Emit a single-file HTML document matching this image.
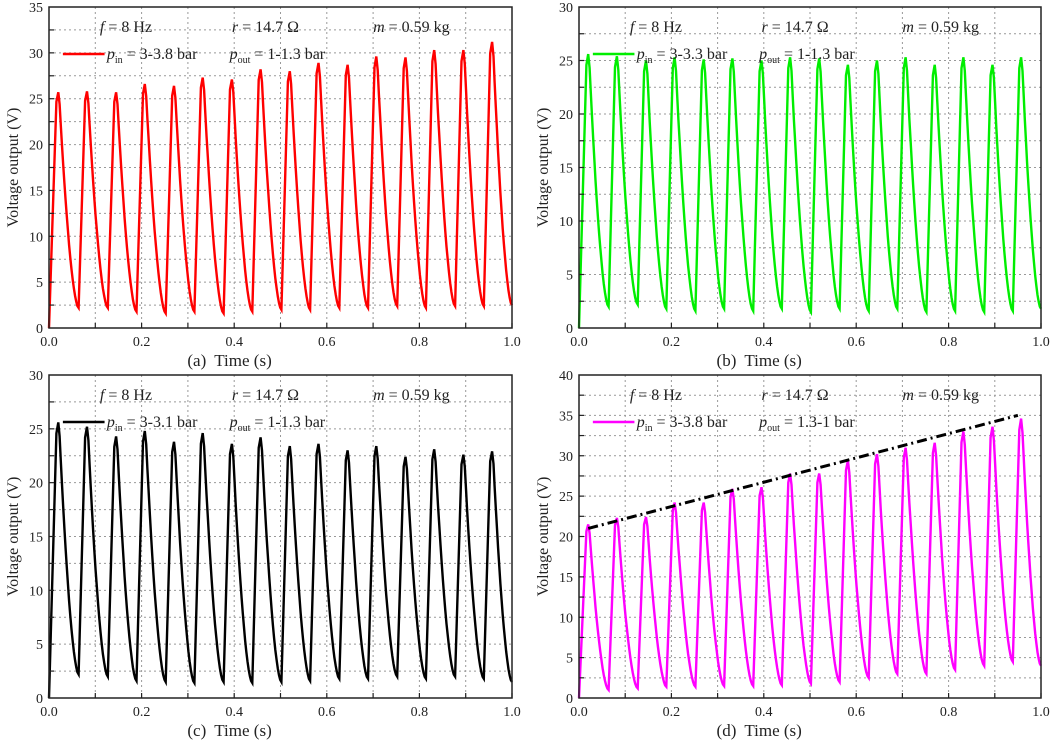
<!DOCTYPE html>
<html><head><meta charset="utf-8">
<style>
body{margin:0;background:#fff;}
svg text{font-family:"Liberation Serif",serif;fill:#222;}
</style></head>
<body>
<svg id="fig" width="1052" height="740" viewBox="0 0 1052 740" xmlns="http://www.w3.org/2000/svg"></svg>
<script>
// ---- data ----
const peakTimes = [0.02,0.082,0.145,0.207,0.27,0.332,0.395,0.457,0.52,0.582,0.645,0.707,0.77,0.832,0.895,0.957];
const peaksA = [25.7,25.8,25.7,26.6,26.4,27.3,27.1,28.2,28.0,28.9,28.7,29.6,29.5,30.3,30.3,31.2];
const minsA  = [2.2,2.2,1.8,1.6,1.8,1.6,1.8,2.0,2.0,2.2,2.2,2.4,2.2,2.4,2.4,2.5];
const peaksB = [25.6,25.4,25.0,25.3,25.1,25.2,25.0,25.3,25.2,24.6,25.0,25.3,24.6,25.3,24.6,25.3];
const minsB  = [2.0,2.2,1.8,1.6,1.8,1.6,1.8,1.5,1.8,1.6,1.8,1.5,1.6,1.5,1.6,1.8];
const peaksC = [25.6,25.2,24.3,24.8,23.8,24.6,23.6,24.2,23.4,23.6,23.0,23.4,22.4,23.1,22.6,22.9];
const minsC  = [2.2,2.0,1.6,1.5,1.4,1.5,1.4,1.5,1.6,1.8,1.8,2.0,1.8,2.0,1.8,1.5];
const peaksD = [21.5,22.3,22.4,24.2,24.2,25.9,26.1,27.8,27.8,29.4,30.2,31.0,31.6,33.0,33.6,34.6];
const minsD  = [1.0,1.2,1.4,1.4,1.5,1.5,1.6,1.8,2.0,2.5,3.0,3.0,3.5,4.0,4.5,4.0];
const trendT = [0.02,0.95];
const trendV = [21,35];
const xTicks = [0,0.2,0.4,0.6,0.8,1.0];
const xTickLabels = ["0.0","0.2","0.4","0.6","0.8","1.0"];

const NS="http://www.w3.org/2000/svg";
const svg=document.getElementById('fig');
function mk(tag,attrs,parent){const e=document.createElementNS(NS,tag);for(const k in attrs)e.setAttribute(k,attrs[k]);(parent||svg).appendChild(e);return e;}

function panel(o){
  const g=mk('g',{});
  
  
  const X=t=>o.x0+t*(o.x1-o.x0);
  const Y=v=>o.y1-v/o.ymax*(o.y1-o.y0);
  for(let t=0.1;t<1;t+=0.1){const l=mk('line',{x1:X(t),x2:X(t),y1:o.y0,y2:o.y1,stroke:'#999','stroke-width':1,'stroke-dasharray':'2,3'},g);}
  for(let v=2.5;v<o.ymax;v+=2.5){const l=mk('line',{x1:o.x0,x2:o.x1,y1:Y(v),y2:Y(v),stroke:'#999','stroke-width':1,'stroke-dasharray':'2,3'},g);}
  let pts=[[0,0]];
  const P=o.peaks,M=o.mins;
  for(let i=0;i<P.length;i++){
    const tp=peakTimes[i];
    pts.push([tp-0.004,P[i]*0.96],[tp,P[i]],[tp+0.003,P[i]*0.95]);
    const tEnd=(i<P.length-1)?peakTimes[i+1]-0.018:1.0;
    const vs=P[i]*0.95, vm=M[i];
    const n=16;
    for(let k=1;k<=n;k++){const s=k/n;const tt=tp+0.003+s*(tEnd-tp-0.003);pts.push([tt,vm+(vs-vm)*Math.pow(1-s,1.7)]);}
  }
  const path=mk('polyline',{points:pts.map(p=>X(p[0]).toFixed(1)+','+Y(p[1]).toFixed(1)).join(' '),fill:'none',stroke:o.color,'stroke-width':2.4,'stroke-linejoin':'miter'},g);
  
  
  if(o.trend){const l=mk('line',{x1:X(trendT[0]),y1:Y(trendV[0]),x2:X(trendT[1]),y2:Y(trendV[1]),stroke:'#000','stroke-width':3,'stroke-dasharray':'10,4,2,4'},g);}
  const fr=mk('rect',{x:o.x0,y:o.y0,width:o.x1-o.x0,height:o.y1-o.y0,fill:'none',stroke:'#222','stroke-width':1.5},g);
  
  for(let t=0.1;t<1;t+=0.1){mk('line',{x1:X(t),x2:X(t),y1:o.y1,y2:o.y1-5,stroke:'#222','stroke-width':1.2},g);}
  for(let v=2.5;v<o.ymax;v+=2.5){mk('line',{x1:o.x0,x2:o.x0+5,y1:Y(v),y2:Y(v),stroke:'#222','stroke-width':1.2},g);}
  xTicks.forEach((t,i)=>{const tx=mk('text',{x:X(t),y:o.y1+18,'text-anchor':'middle','font-size':14},g);tx.textContent=xTickLabels[i];});
  for(let v=0;v<=o.ymax;v+=5){const tx=mk('text',{x:o.x0-6,y:Y(v)+5,'text-anchor':'end','font-size':14},g);tx.textContent=v;}
  const yt=mk('text',{transform:`translate(${o.x0-31},${(o.y0+o.y1)/2}) rotate(-90)`,'text-anchor':'middle','font-size':16},g);
  yt.textContent='Voltage output (V)';
  const xt=mk('text',{x:X(0.39),y:o.y1+38,'text-anchor':'middle','font-size':17},g);
  xt.innerHTML=o.label+'<tspan dx="8">Time (s)</tspan>';
  const a1=mk('text',{x:X(0.11),y:o.y0+25,'font-size':16},g);a1.innerHTML='<tspan font-style="italic">f</tspan> = 8 Hz';
  const a2=mk('text',{x:X(0.395),y:o.y0+25,'font-size':16},g);a2.innerHTML='<tspan font-style="italic">r</tspan> = 14.7 Ω';
  const a3=mk('text',{x:X(0.70),y:o.y0+25,'font-size':16},g);a3.innerHTML='<tspan font-style="italic">m</tspan> = 0.59 kg';
  const lg=mk('g',{},g);
  mk('line',{x1:X(0.03),x2:X(0.12),y1:o.y0+47,y2:o.y0+47,stroke:o.color,'stroke-width':2.5},lg);
  const lt=mk('text',{x:X(0.125),y:o.y0+52,'font-size':16},lg);
  lt.innerHTML='<tspan font-style="italic">p</tspan><tspan font-size="10" dy="4">in</tspan><tspan dy="-4"> = '+o.pin+' bar</tspan>';
  const lt2=mk('text',{x:X(0.39),y:o.y0+52,'font-size':16},lg);
  lt2.innerHTML='<tspan font-style="italic">p</tspan><tspan font-size="10" dy="4">out</tspan><tspan dy="-4"> = '+o.pout+' bar</tspan>';
}
panel({name:'panel-a',x0:49,x1:512,y0:7,y1:328,ymax:35,peaks:peaksA,mins:minsA,color:'#ff0000',label:'(a)',pin:'3-3.8',pout:'1-1.3'});
panel({name:'panel-b',x0:579,x1:1041,y0:7,y1:328,ymax:30,peaks:peaksB,mins:minsB,color:'#00ee00',label:'(b)',pin:'3-3.3',pout:'1-1.3'});
panel({name:'panel-c',x0:49,x1:512,y0:375,y1:698,ymax:30,peaks:peaksC,mins:minsC,color:'#000000',label:'(c)',pin:'3-3.1',pout:'1-1.3'});
panel({name:'panel-d',x0:579,x1:1041,y0:375,y1:698,ymax:40,peaks:peaksD,mins:minsD,color:'#ff00ff',label:'(d)',pin:'3-3.8',pout:'1.3-1',trend:true});
</script>
</body></html>
